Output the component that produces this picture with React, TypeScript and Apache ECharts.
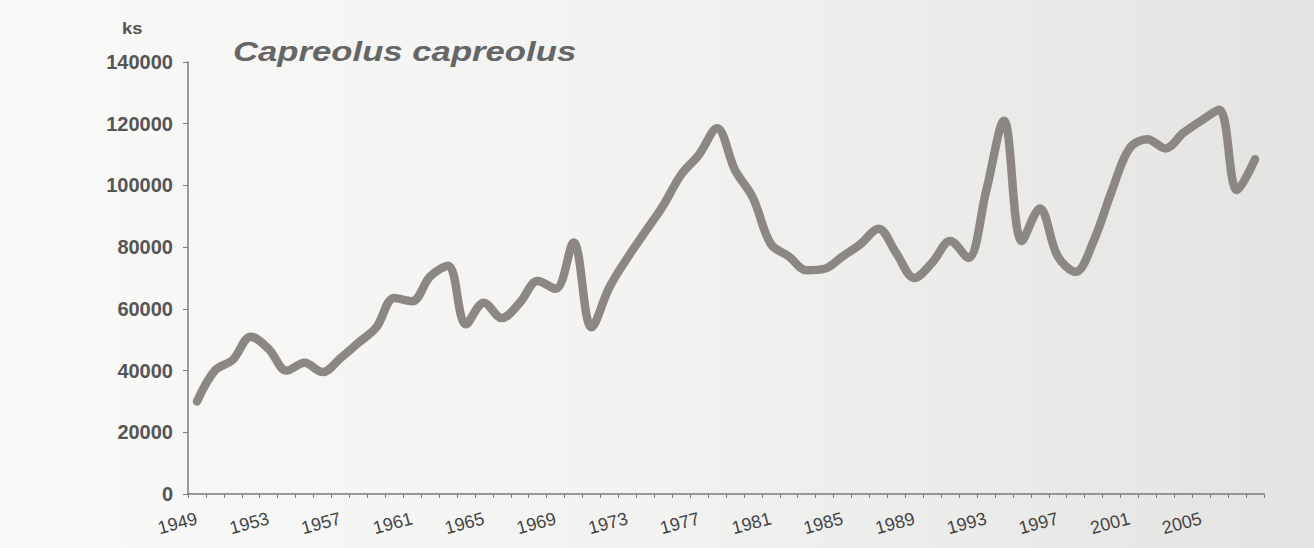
import React, { useEffect, useRef } from "react";
import * as echarts from "echarts";

const years: string[] = [
  "1949","1950","1951","1952","1953","1954","1955","1956","1957","1958",
  "1959","1960","1961","1962","1963","1964","1965","1966","1967","1968",
  "1969","1970","1971","1972","1973","1974","1975","1976","1977","1978",
  "1979","1980","1981","1982","1983","1984","1985","1986","1987","1988",
  "1989","1990","1991","1992","1993","1994","1995","1996","1997","1998",
  "1999","2000","2001","2002","2003","2004","2005","2006","2007","2008",
];

const harvest: number[] = [
  30000, 40000, 43500, 51000, 47000, 40000, 42500, 39500, 44000, 49000,
  54000, 63500, 62500, 70500, 74000, 55000, 62000, 57000, 62000, 69000,
  66500, 81500, 54000, 67000, 76500, 85000, 93500, 103500, 110000, 118500,
  105000, 96000, 81000, 77000, 72500, 73000, 77000, 81000, 86000, 78000,
  70000, 75000, 82000, 76500, 98000, 121000, 82000, 92500, 77000, 72000,
  82000, 98000, 112000, 115000, 112000, 117000, 121000, 124500, 98500, 108500,
];

const titleText = "Capreolus capreolus";
const unitText = "ks";

export default function App() {
  const ref = useRef<HTMLDivElement>(null);

  useEffect(() => {
    if (!ref.current) return;
    const chart = echarts.init(ref.current, undefined, { renderer: "svg" });
    chart.setOption({
      animation: false,
      backgroundColor: {
        type: "linear",
        x: 0, y: 0, x2: 1, y2: 0,
        colorStops: [
          { offset: 0, color: "#f9f9f8" },
          { offset: 0.5, color: "#f2f2f0" },
          { offset: 1, color: "#e3e3e1" },
        ],
      },
      grid: { left: 188, right: 50, top: 62, bottom: 54 },
      xAxis: {
        type: "category",
        data: years,
        boundaryGap: true,
        axisLine: { lineStyle: { color: "#7a7a7a", width: 1.5 } },
        axisTick: { show: true, interval: 0, length: 4, lineStyle: { color: "#7a7a7a" } },
        axisLabel: {
          interval: 3,
          rotate: 15,
          margin: 24,
          color: "#444",
          fontFamily: "Liberation Sans Narrow, Arial Narrow, Liberation Sans, Arial",
          fontSize: 18,
        },
        splitLine: { show: false },
      },
      yAxis: {
        type: "value",
        min: 0,
        max: 140000,
        interval: 20000,
        axisLine: { show: true, lineStyle: { color: "#7a7a7a", width: 1.5 } },
        axisTick: { show: true, length: 5, lineStyle: { color: "#7a7a7a" } },
        axisLabel: {
          margin: 15,
          color: "#555",
          fontWeight: "bold",
          fontFamily: "Liberation Sans, Arial",
          fontSize: 20,
          formatter: (v: number) => String(v),
        },
        splitLine: { show: false },
      },
      graphic: [
        {
          type: "text",
          x: 122,
          y: 20,
          scaleX: 1.15,
          style: {
            text: unitText,
            fill: "#555",
            font: "bold 16px 'Liberation Sans', Arial",
          },
        },
        {
          type: "text",
          x: 233,
          y: 37,
          scaleX: 1.24,
          style: {
            text: titleText,
            fill: "#666",
            font: "italic bold 28px 'Liberation Sans', Arial",
          },
        },
      ],
      series: [
        {
          type: "line",
          data: harvest,
          smooth: 0.35,
          symbol: "none",
          lineStyle: { color: "#8c8782", width: 8.5, cap: "round", join: "round" },
        },
      ],
    });
    return () => chart.dispose();
  }, []);

  return (
    <div
      ref={ref}
      style={{ position: "fixed", left: 0, top: 0, width: 1314, height: 548 }}
    />
  );
}
